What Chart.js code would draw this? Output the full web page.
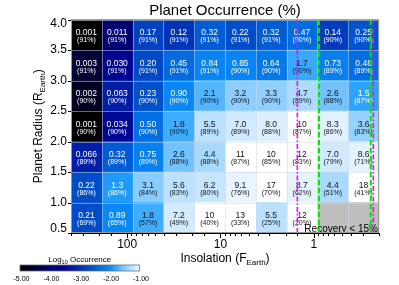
<!DOCTYPE html>
<html>
<head>
<meta charset="utf-8">
<script src="https://cdn.jsdelivr.net/npm/chart.js@4.4.1/dist/chart.umd.min.js"></script>
<style>
html, body { margin: 0; padding: 0; background: #fff; }
canvas { display: block; }
</style>
</head>
<body>
<canvas id="occChart" width="399" height="285"></canvas>
<script>
// rows from top (3.5-4.0 R_Earth) to bottom (0.5-1.0)
var radiusBins = ['3.5-4.0', '3.0-3.5', '2.5-3.0', '2.0-2.5', '1.5-2.0', '1.0-1.5', '0.5-1.0'];
var radiusTicks = [0.5, 1.0, 1.5, 2.0, 2.5, 3.0, 3.5, 4.0];
// column edges, insolation in F_Earth (high on the left)
var insolEdges = [400, 187, 87.5, 40.9, 19.1, 8.96, 4.19, 1.96, 0.916, 0.428, 0.2];
var insolLabels = [100, 10, 1];

// occurrence (%) left to right, null = recovery < 15%
var occ35to40 = [0.001, 0.011, 0.17, 0.12, 0.32, 0.22, 0.32, 0.47, 0.14, 0.25];
var occ30to35 = [0.003, 0.030, 0.20, 0.45, 0.84, 0.85, 0.64, 1.7, 0.73, 0.48];
var occ25to30 = [0.002, 0.063, 0.23, 0.90, 2.1, 3.2, 3.3, 4.7, 2.6, 1.5];
var occ20to25 = [0.001, 0.034, 0.50, 1.8, 5.5, 7.0, 8.0, 10, 8.3, 3.6];
var occ15to20 = [0.066, 0.32, 0.75, 2.6, 4.4, 11, 10, 12, 7.0, 8.6];
var occ10to15 = [0.22, 1.3, 3.1, 5.6, 6.2, 9.1, 17, 8.7, 4.4, 18];
var occ05to10 = [0.21, 0.89, 1.8, 7.2, 10, 13, 5.5, 12, null, null];

// recovery (%) in brackets
var rec35to40 = [91, 91, 91, 91, 91, 91, 91, 90, 90, 90];
var rec30to35 = [91, 91, 91, 91, 91, 90, 90, 90, 89, 89];
var rec25to30 = [90, 90, 90, 90, 90, 90, 90, 89, 88, 87];
var rec20to25 = [90, 90, 90, 90, 89, 89, 88, 87, 86, 83];
var rec15to20 = [89, 89, 89, 88, 88, 87, 85, 83, 79, 71];
var rec10to15 = [86, 86, 84, 83, 80, 76, 70, 62, 51, 41];
var rec05to10 = [69, 65, 57, 49, 40, 33, 25, 20, null, null];

var occRows = [occ35to40, occ30to35, occ25to30, occ20to25, occ15to20, occ10to15, occ05to10];
var recRows = [rec35to40, rec30to35, rec25to30, rec20to25, rec15to20, rec10to15, rec05to10];

// habitable zone edges (F_Earth)
var hzMagenta = [1.5, 0.23];
var hzGreen = [0.88, 0.245];
var cbarTicks = [-5, -4, -3, -2, -1];
var lowRecText = 'Recovery < 15%';

var FONT = '"Liberation Sans", Arial, Helvetica, sans-serif';
var grayCell = 'rgb(190,190,190)';

// log10 occurrence -> colour
var cmapStops = [
    [-5.0, 0, 0, 0],
    [-4.5, 2, 2, 55],
    [-4.0, 0, 0, 112],
    [-3.5, 0, 5, 145],
    [-3.0, 0, 45, 178],
    [-2.5, 0, 92, 212],
    [-2.0, 10, 140, 248],
    [-1.75, 60, 172, 255],
    [-1.5, 140, 205, 255],
    [-1.25, 188, 226, 255],
    [-1.0, 242, 248, 255]
];
function cmap(l) {
    if (l <= cmapStops[0][0]) return 'rgb(0,0,0)';
    if (l >= -1) return 'rgb(255,255,255)';
    for (var i = 1; i < cmapStops.length; i++) {
        var a = cmapStops[i-1], b = cmapStops[i];
        if (l <= b[0]) {
            var t = (l - a[0]) / (b[0] - a[0]);
            return 'rgb(' + Math.round(a[1] + t*(b[1]-a[1])) + ',' +
                Math.round(a[2] + t*(b[2]-a[2])) + ',' + Math.round(a[3] + t*(b[3]-a[3])) + ')';
        }
    }
    return 'rgb(255,255,255)';
}

function fmtOcc(v) {
    if (v < 0.1) return v.toFixed(3);
    if (v < 10) return v.toPrecision(2);
    return v.toFixed(0);
}

var datasets = [];
for (var c = 0; c < insolEdges.length - 1; c++) {
    var d = [], cols = [];
    for (var r = 0; r < occRows.length; r++) {
        d.push([insolEdges[c], insolEdges[c+1]]);
        var v = occRows[r][c];
        cols.push(v == null ? grayCell : cmap(Math.log10(v / 100)));
    }
    datasets.push({
        type: 'bar',
        indexAxis: 'y',
        data: d,
        backgroundColor: cols,
        xAxisID: 'x',
        yAxisID: 'yc',
        grouped: false,
        categoryPercentage: 1,
        barPercentage: 1,
        borderWidth: 0,
        borderSkipped: false
    });
}

function drawParts(ctx, parts, x, y) {
    var w = 0;
    parts.forEach(function(p) { ctx.font = p.s + 'px ' + FONT; p.w = ctx.measureText(p.t).width; w += p.w; });
    var cx = x - w / 2;
    ctx.textAlign = 'left';
    ctx.textBaseline = 'alphabetic';
    parts.forEach(function(p) {
        ctx.font = p.s + 'px ' + FONT;
        ctx.fillText(p.t, cx, y + (p.dy || 0));
        cx += p.w;
    });
}

var decorPlugin = {
    id: 'decor',
    afterDatasetsDraw: function(chart) {
        var ctx = chart.ctx, a = chart.chartArea;
        var xs = chart.scales.x, yc = chart.scales.yc, yr = chart.scales.yr;
        ctx.save();
        // cell separators
        ctx.strokeStyle = 'rgba(205,215,232,0.5)';
        ctx.lineWidth = 1;
        ctx.beginPath();
        insolEdges.forEach(function(e) {
            var px = Math.round(xs.getPixelForValue(e)) + 0.5;
            ctx.moveTo(px, a.top); ctx.lineTo(px, a.bottom);
        });
        radiusTicks.forEach(function(t) {
            var py = Math.round(yr.getPixelForValue(t)) + 0.5;
            ctx.moveTo(a.left, py); ctx.lineTo(a.right, py);
        });
        ctx.stroke();

        // cell labels
        ctx.textAlign = 'center';
        ctx.textBaseline = 'middle';
        for (var r = 0; r < occRows.length; r++) {
            var cy = yc.getPixelForValue(r);
            for (var c = 0; c < insolEdges.length - 1; c++) {
                var v = occRows[r][c];
                if (v == null) continue;
                var cx = (xs.getPixelForValue(insolEdges[c]) + xs.getPixelForValue(insolEdges[c+1])) / 2;
                ctx.fillStyle = v < 1.6 ? '#ffffff' : '#141414';
                ctx.font = '8.5px ' + FONT;
                ctx.fillText(fmtOcc(v), cx, cy - 2);
                ctx.font = '7px ' + FONT;
                ctx.fillText('(' + recRows[r][c] + '%)', cx, cy + 5.5);
            }
        }

        ctx.fillStyle = '#000';
        ctx.font = '10px ' + FONT;
        ctx.textAlign = 'right';
        ctx.textBaseline = 'alphabetic';
        ctx.fillText(lowRecText, a.right - 1, a.bottom - 1.5);

        // HZ lines
        var y0 = yr.getPixelForValue(0.5), y1 = yr.getPixelForValue(4.0);
        ctx.lineWidth = 2;
        ctx.strokeStyle = 'rgb(0,232,0)';
        ctx.setLineDash([5, 3]);
        hzGreen.forEach(function(f) {
            var px = xs.getPixelForValue(f);
            ctx.beginPath(); ctx.moveTo(px, y0); ctx.lineTo(px, y1); ctx.stroke();
        });
        ctx.lineWidth = 1.6;
        ctx.strokeStyle = 'rgb(255,0,255)';
        ctx.setLineDash([5, 2, 1.5, 2]);
        hzMagenta.forEach(function(f) {
            var px = xs.getPixelForValue(f);
            ctx.beginPath(); ctx.moveTo(px, y0); ctx.lineTo(px, y1); ctx.stroke();
        });
        ctx.setLineDash([]);

        // frame
        ctx.lineWidth = 1;
        ctx.strokeStyle = 'rgb(150,150,150)';
        ctx.strokeRect(a.left + 0.5, a.top + 0.5, a.right - a.left - 1, a.bottom - a.top - 1);
        ctx.strokeStyle = '#000';
        ctx.beginPath();
        ctx.moveTo(a.left, Math.round(a.bottom) + 0.5); ctx.lineTo(a.right, Math.round(a.bottom) + 0.5);
        // x ticks
        xs.ticks.forEach(function(t) {
            var lg = Math.log10(t.value);
            var major = Math.abs(lg - Math.round(lg)) < 1e-6;
            var px = Math.round(xs.getPixelForValue(t.value)) + 0.5;
            ctx.moveTo(px, a.bottom); ctx.lineTo(px, a.bottom + (major ? 5 : 3));
        });
        // y ticks
        radiusTicks.forEach(function(t) {
            var py = Math.round(yr.getPixelForValue(t)) + 0.5;
            ctx.moveTo(a.left, py); ctx.lineTo(a.left - 3, py);
        });
        ctx.stroke();

        // y tick labels (end labels nudged inside like the original)
        ctx.fillStyle = '#000';
        ctx.font = '12px ' + FONT;
        ctx.textAlign = 'right';
        ctx.textBaseline = 'middle';
        radiusTicks.forEach(function(t) {
            var py = yr.getPixelForValue(t);
            if (t === 4.0) py += 4;
            if (t === 0.5) py -= 4;
            ctx.fillText(t.toFixed(1), a.left - 4, py);
        });
        ctx.restore();
    },
    afterDraw: function(chart) {
        var ctx = chart.ctx, a = chart.chartArea;
        var mid = (a.left + a.right) / 2;
        ctx.save();
        ctx.fillStyle = '#000';
        drawParts(ctx, [{t: 'Planet Occurrence (%)', s: 15}], mid, 14.5);
        drawParts(ctx, [{t: 'Insolation (F', s: 12}, {t: 'Earth', s: 8, dy: 3}, {t: ')', s: 12}], mid, 262);
        ctx.save();
        ctx.translate(42, (a.top + a.bottom) / 2);
        ctx.rotate(-Math.PI / 2);
        drawParts(ctx, [{t: 'Planet Radius (R', s: 12}, {t: 'Earth', s: 8, dy: 3}, {t: ')', s: 12}], 0, 0);
        ctx.restore();

        // colour bar
        var bx0 = 20, bx1 = 139.5, by = 265, bh = 6;
        var g = ctx.createLinearGradient(bx0, 0, bx1, 0);
        for (var i = 0; i <= 40; i++) {
            g.addColorStop(i / 40, cmap(-5 + 4 * i / 40 - (i == 40 ? 1e-6 : 0)));
        }
        ctx.fillStyle = g;
        ctx.fillRect(bx0, by, bx1 - bx0, bh);
        ctx.strokeStyle = 'rgb(110,110,110)';
        ctx.lineWidth = 0.8;
        ctx.strokeRect(bx0, by, bx1 - bx0, bh);
        ctx.fillStyle = '#000';
        drawParts(ctx, [{t: 'Log', s: 8}, {t: '10', s: 5.5, dy: 1.5}, {t: ' Occurrence', s: 8}], (bx0 + bx1) / 2, 262);
        ctx.font = '7px ' + FONT;
        ctx.textAlign = 'center';
        ctx.textBaseline = 'middle';
        cbarTicks.forEach(function(t) {
            var px = bx0 + (t + 5) / 4 * (bx1 - bx0);
            ctx.fillText(t.toFixed(2), px + 1.5, 279);
        });
        ctx.restore();
    }
};

new Chart(document.getElementById('occChart'), {
    type: 'bar',
    data: { labels: radiusBins, datasets: datasets },
    options: {
        responsive: false,
        animation: false,
        devicePixelRatio: 1,
        layout: { padding: { left: 0, right: 20, top: 19.5, bottom: 0 } },
        plugins: { legend: { display: false }, tooltip: { enabled: false }, title: { display: false } },
        scales: {
            x: {
                type: 'logarithmic',
                position: 'bottom',
                reverse: true,
                min: 0.2,
                max: 400,
                grid: { display: false, drawTicks: false },
                border: { display: false },
                ticks: {
                    autoSkip: false,
                    maxRotation: 0,
                    padding: 4,
                    color: '#000',
                    font: { family: FONT, size: 12 },
                    callback: function(v) { return insolLabels.indexOf(Number(v)) >= 0 ? String(v) : ''; }
                },
                afterFit: function(s) { s.height = 52; }
            },
            yc: {
                type: 'category',
                display: false,
                offset: true
            },
            yr: {
                type: 'linear',
                position: 'left',
                min: 0.5,
                max: 4.0,
                grid: { display: false, drawTicks: false },
                border: { display: false },
                ticks: {
                    stepSize: 0.5,
                    padding: 4,
                    color: 'rgba(0,0,0,0)',
                    font: { family: FONT, size: 12 }
                },
                afterFit: function(s) { s.width = 71; }
            }
        }
    },
    plugins: [decorPlugin]
});
</script>
</body>
</html>
